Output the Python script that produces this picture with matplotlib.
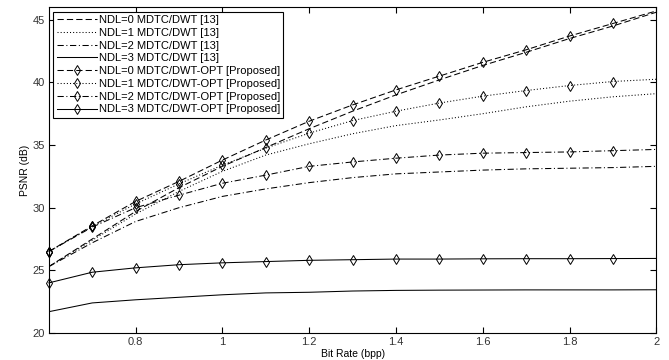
import numpy as np
import matplotlib.pyplot as plt
from matplotlib.lines import Line2D

plt.rcParams['font.family'] = ['Liberation Sans', 'DejaVu Sans']

# bit rate (bpp)
rate = [0.6, 0.7, 0.8, 0.9, 1.0, 1.1, 1.2, 1.3, 1.4, 1.5, 1.6, 1.7, 1.8, 1.9, 2.0]

# MDTC/DWT [13]
ndl0_ref = [25.3, 27.5, 29.7, 31.6, 33.3, 34.8, 36.3, 37.7, 39.0, 40.2, 41.35, 42.4, 43.5, 44.5, 45.6]
ndl1_ref = [25.3, 27.4, 29.5, 31.3, 32.9, 34.2, 35.1, 35.9, 36.55, 37.0, 37.5, 38.05, 38.5, 38.85, 39.1]
ndl2_ref = [25.3, 27.2, 28.9, 30.0, 30.9, 31.5, 32.0, 32.4, 32.7, 32.85, 33.0, 33.1, 33.15, 33.2, 33.3]
ndl3_ref = [21.7, 22.4, 22.65, 22.85, 23.05, 23.2, 23.25, 23.35, 23.4, 23.42, 23.43, 23.44, 23.44, 23.44, 23.45]

# MDTC/DWT-OPT [Proposed]
ndl0_opt = [26.5, 28.55, 30.5, 32.1, 33.8, 35.4, 36.9, 38.2, 39.4, 40.5, 41.6, 42.6, 43.7, 44.7, 45.7]
ndl1_opt = [26.5, 28.5, 30.3, 31.9, 33.4, 34.75, 35.95, 36.95, 37.7, 38.35, 38.9, 39.35, 39.75, 40.07, 40.25]
ndl2_opt = [26.5, 28.45, 30.0, 31.0, 31.95, 32.6, 33.3, 33.65, 33.95, 34.2, 34.35, 34.4, 34.45, 34.55, 34.65]
ndl3_opt = [24.0, 24.85, 25.2, 25.45, 25.6, 25.7, 25.8, 25.85, 25.9, 25.9, 25.92, 25.93, 25.93, 25.94, 25.95]

labels = ['NDL=0 MDTC/DWT [13]', 'NDL=1 MDTC/DWT [13]', 'NDL=2 MDTC/DWT [13]',
          'NDL=3 MDTC/DWT [13]',
          'NDL=0 MDTC/DWT-OPT [Proposed]', 'NDL=1 MDTC/DWT-OPT [Proposed]',
          'NDL=2 MDTC/DWT-OPT [Proposed]', 'NDL=3 MDTC/DWT-OPT [Proposed]']

fig = plt.figure(figsize=(6.69, 3.6), dpi=100)
ax = fig.add_axes([0.073, 0.075, 0.908, 0.905])

lw = 0.75
dash = (0, (6, 3))
dot = (0, (1, 2))
dashdot = (0, (6, 2.5, 1, 2.5))
styles = [dash, dot, dashdot, '-']

handles = []
for ys, ls in zip([ndl0_ref, ndl1_ref, ndl2_ref, ndl3_ref], styles):
    ln, = ax.plot(rate, ys, color='k', lw=lw, linestyle=ls)
    handles.append(ln)

mk = dict(color='k', lw=lw, marker='d', markersize=5, markerfacecolor='none',
          markeredgewidth=0.7)
for ys, ls in zip([ndl0_opt, ndl1_opt, ndl2_opt, ndl3_opt], styles):
    # no marker on the last point (right edge)
    ax.plot(rate, ys, linestyle=ls, markevery=slice(0, 14), clip_on=False, **mk)
    handles.append(Line2D([], [], linestyle=ls, **mk))

ax.set_xlim(0.6, 2.0)
ax.set_ylim(20, 46)
ax.set_xticks([0.8, 1.0, 1.2, 1.4, 1.6, 1.8, 2.0])
ax.set_xticklabels(['0.8', '1', '1.2', '1.4', '1.6', '1.8', '2'])
ax.set_yticks([20, 25, 30, 35, 40, 45])
ax.tick_params(direction='in', top=True, right=True, length=4, labelsize=8,
               labelcolor='#333333', pad=3)
for s in ax.spines.values():
    s.set_linewidth(0.8)

ax.set_xlabel('Bit Rate (bpp)', fontsize=7.5, labelpad=1)
ax.set_ylabel('PSNR (dB)', fontsize=7.5, labelpad=2)

leg = ax.legend(handles, labels, loc='upper left', fontsize=8, handlelength=3.6,
                numpoints=1, fancybox=False, edgecolor='k', framealpha=1,
                borderaxespad=0.4, labelspacing=0.25, handletextpad=0.2,
                borderpad=0.3)
leg.get_frame().set_linewidth(0.8)

fig.savefig('out.png', dpi=100)
